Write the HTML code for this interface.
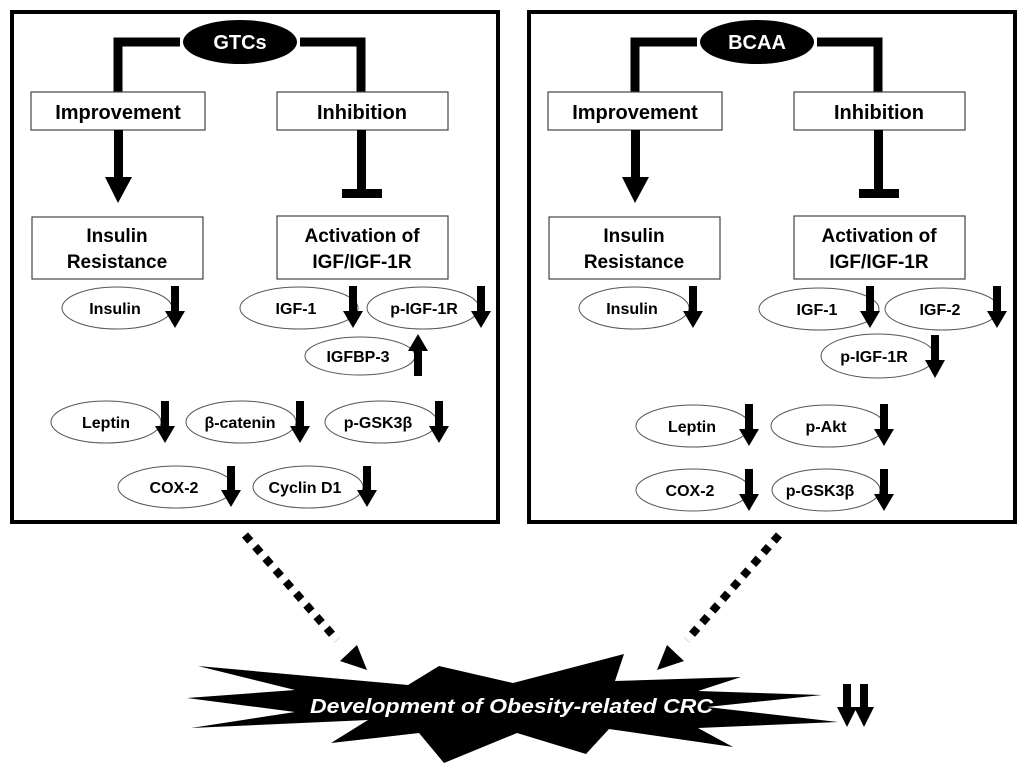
<!DOCTYPE html>
<html><head><meta charset="utf-8"><style>
html,body{margin:0;padding:0;background:#fff;}
svg{display:block;}
text{font-family:"Liberation Sans",Arial,sans-serif;font-weight:bold;}
</style></head><body>
<svg width="1024" height="775" viewBox="0 0 1024 775" xmlns="http://www.w3.org/2000/svg">
<defs>
<g id="top">
  <rect x="12" y="12" width="486" height="510" fill="none" stroke="#000" stroke-width="4"/>
  <path d="M118 94 V42 H180 M300 42 H361 V94" fill="none" stroke="#000" stroke-width="9"/>
  <rect x="31" y="92" width="174" height="38" fill="#fff" stroke="#444" stroke-width="1.2"/>
  <rect x="277" y="92" width="171" height="38" fill="#fff" stroke="#444" stroke-width="1.2"/>
  <text x="118" y="119" font-size="20" text-anchor="middle">Improvement</text>
  <text x="362" y="119" font-size="20" text-anchor="middle">Inhibition</text>
  <rect x="114" y="130" width="9" height="48" fill="#000"/>
  <polygon points="105,177 132,177 118,203" fill="#000"/>
  <rect x="357" y="130" width="9" height="62" fill="#000"/>
  <rect x="342" y="189" width="40" height="9" fill="#000"/>
  <rect x="32" y="217" width="171" height="62" fill="#fff" stroke="#444" stroke-width="1.2"/>
  <rect x="277" y="216" width="171" height="63" fill="#fff" stroke="#444" stroke-width="1.2"/>
  <text x="117" y="242" font-size="19" text-anchor="middle">Insulin</text>
  <text x="117" y="268" font-size="19" text-anchor="middle">Resistance</text>
  <text x="362" y="242" font-size="19" text-anchor="middle">Activation of</text>
  <text x="362" y="268" font-size="19" text-anchor="middle">IGF/IGF-1R</text>
  <ellipse cx="117" cy="308" rx="55" ry="21" fill="none" stroke="#555" stroke-width="1"/>
  <text x="115" y="314" font-size="16" text-anchor="middle">Insulin</text>
</g>
</defs>

<use href="#top"/>
<use href="#top" transform="translate(517,0)"/>

<ellipse cx="240" cy="42" rx="57" ry="22" fill="#000"/>
<text x="240" y="49" font-size="20" fill="#fff" text-anchor="middle">GTCs</text>
<ellipse cx="757" cy="42" rx="57" ry="22" fill="#000"/>
<text x="757" y="49" font-size="20" fill="#fff" text-anchor="middle">BCAA</text>

<g fill="none" stroke="#555" stroke-width="1">
  <ellipse cx="299" cy="308" rx="59" ry="21"/>
  <ellipse cx="423" cy="308" rx="56" ry="21"/>
  <ellipse cx="360" cy="356" rx="55" ry="19"/>
  <ellipse cx="106" cy="422" rx="55" ry="21"/>
  <ellipse cx="241" cy="422" rx="55" ry="21"/>
  <ellipse cx="381" cy="422" rx="56" ry="21"/>
  <ellipse cx="176" cy="487" rx="58" ry="21"/>
  <ellipse cx="308" cy="487" rx="55" ry="21"/>
  <ellipse cx="819" cy="309" rx="60" ry="21"/>
  <ellipse cx="942" cy="309" rx="57" ry="21"/>
  <ellipse cx="878" cy="356" rx="57" ry="22"/>
  <ellipse cx="693" cy="426" rx="57" ry="21"/>
  <ellipse cx="828" cy="426" rx="57" ry="21"/>
  <ellipse cx="693" cy="490" rx="57" ry="21"/>
  <ellipse cx="826" cy="490" rx="54" ry="21"/>
</g>

<g font-size="16" text-anchor="middle">
  <text x="296" y="314">IGF-1</text>
  <text x="424" y="314">p-IGF-1R</text>
  <text x="358" y="362">IGFBP-3</text>
  <text x="106" y="428">Leptin</text>
  <text x="240" y="428">β-catenin</text>
  <text x="378" y="428">p-GSK3β</text>
  <text x="174" y="493">COX-2</text>
  <text x="305" y="493">Cyclin D1</text>
  <text x="817" y="315">IGF-1</text>
  <text x="940" y="315">IGF-2</text>
  <text x="874" y="362">p-IGF-1R</text>
  <text x="692" y="432">Leptin</text>
  <text x="826" y="432">p-Akt</text>
  <text x="690" y="496">COX-2</text>
  <text x="820" y="496">p-GSK3β</text>
</g>

<g fill="#000">
  <rect x="171" y="286" width="8" height="26"/><polygon points="165,311 185,311 175,328"/>
  <rect x="349" y="286" width="8" height="26"/><polygon points="343,311 363,311 353,328"/>
  <rect x="477" y="286" width="8" height="26"/><polygon points="471,311 491,311 481,328"/>
  <rect x="414" y="350" width="8" height="26"/><polygon points="408,351 428,351 418,334"/>
  <rect x="161" y="401" width="8" height="26"/><polygon points="155,426 175,426 165,443"/>
  <rect x="296" y="401" width="8" height="26"/><polygon points="290,426 310,426 300,443"/>
  <rect x="435" y="401" width="8" height="26"/><polygon points="429,426 449,426 439,443"/>
  <rect x="227" y="466" width="8" height="25"/><polygon points="221,490 241,490 231,507"/>
  <rect x="363" y="466" width="8" height="25"/><polygon points="357,490 377,490 367,507"/>
  <rect x="689" y="286" width="8" height="26"/><polygon points="683,311 703,311 693,328"/>
  <rect x="866" y="286" width="8" height="26"/><polygon points="860,311 880,311 870,328"/>
  <rect x="993" y="286" width="8" height="26"/><polygon points="987,311 1007,311 997,328"/>
  <rect x="931" y="335" width="8" height="26"/><polygon points="925,360 945,360 935,378"/>
  <rect x="745" y="404" width="8" height="26"/><polygon points="739,429 759,429 749,446"/>
  <rect x="880" y="404" width="8" height="26"/><polygon points="874,429 894,429 884,446"/>
  <rect x="745" y="469" width="8" height="26"/><polygon points="739,494 759,494 749,511"/>
  <rect x="880" y="469" width="8" height="26"/><polygon points="874,494 894,494 884,511"/>
</g>

<line x1="245" y1="535" x2="337" y2="640" stroke="#000" stroke-width="8" stroke-dasharray="8 7.5"/>
<polygon points="340,661 357,645 367,670" fill="#000"/>
<line x1="779" y1="535" x2="687" y2="640" stroke="#000" stroke-width="8" stroke-dasharray="8 7.5"/>
<polygon points="684,661 667,645 657,670" fill="#000"/>

<polygon fill="#000" points="198,666 408,685 439,666 513,683 624,654 615,681 741,677 698,691 822,695 707,707 838,722 698,728 733,747 609,729 586,754 517,733 444,763 419,733 331,743 368,720 191,728 295,712 187,698 295,690"/>
<text x="310" y="713" font-size="20" font-style="italic" fill="#fff" textLength="403" lengthAdjust="spacingAndGlyphs">Development of Obesity-related CRC</text>

<g fill="#000">
  <rect x="843" y="684" width="8" height="24"/><polygon points="837,707 857,707 847,727"/>
  <rect x="860" y="684" width="8" height="24"/><polygon points="854,707 874,707 864,727"/>
</g>
</svg>
</body></html>
